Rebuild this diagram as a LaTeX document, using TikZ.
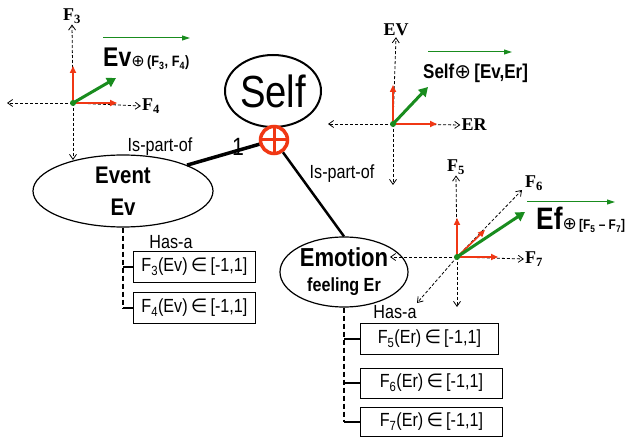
\documentclass[tikz,border=0pt]{standalone}
\usepackage{fontspec}
\setmainfont[FakeStretch=0.85]{Liberation Sans}
\newfontfamily\axisfont{Liberation Serif}
\newfontfamily\symfont{DejaVu Sans}
\usepackage{tikz}
\usetikzlibrary{shapes,arrows,positioning,calc,arrows.meta}

\definecolor{vecred}{RGB}{240,55,20}
\definecolor{vecgreen}{RGB}{25,140,30}

\tikzset{
  ell/.style={draw, ellipse, line width=1.2pt, inner sep=0pt},
  fbox/.style={draw, line width=0.8pt, anchor=west, minimum height=31pt, inner sep=0pt, font=\fontsize{19}{20}\selectfont},
  axis/.style={densely dashed, line width=0.8pt, -{Straight Barb[length=5pt,width=7pt]}},
  vred/.style={vecred, line width=1.6pt, -{Triangle[length=7pt,width=6pt]}},
  vgreen/.style={vecgreen, line width=3pt, -{Triangle[length=9pt,width=10pt]}},
  vthin/.style={vecgreen, line width=1pt, -{Triangle[length=8pt,width=5pt]}},
  axlabel/.style={inner sep=1pt, font=\axisfont\bfseries\fontsize{18}{18}\selectfont},
  lbl/.style={font=\fontsize{19}{20}\selectfont},
  trunk/.style={dashed, dash pattern=on 5pt off 3pt, line width=1.5pt},
  branch/.style={line width=1.5pt}
}

\begin{document}
\begin{tikzpicture}[x=1pt, y=-1pt]
  \useasboundingbox (0,0) rectangle (631,443);

  % concept nodes
  \node[ell, line width=2pt, minimum width=96pt, minimum height=72pt, font=\fontsize{45}{45}\selectfont] (self) at (273,91) {Self};
  \node[circle, draw=vecred, line width=3.5pt, minimum size=27pt, inner sep=0pt] (oplus) at (274,140) {};
  \draw[vecred, line width=3pt] (oplus.north) -- (oplus.south) (oplus.west) -- (oplus.east);
  \node[ell, minimum width=180pt, minimum height=72pt, align=center, font=\bfseries\fontsize{24}{32}\selectfont] (event) at (123,191) {Event\\Ev};
  \node[ell, minimum width=128pt, minimum height=70pt, align=center, font=\bfseries\fontsize{26}{25}\selectfont] (emotion) at (344,272) {Emotion\\{\fontsize{19}{25}\selectfont feeling Er}};

  \draw[line width=3.5pt] (event.22) -- (oplus);
  \draw[line width=2.5pt] (oplus) -- (emotion.north);
  \node[font=\fontsize{25}{25}\selectfont] (one) at (238,147) {1};
  \node[lbl] (ispart1) at (160,147) {Is-part-of};
  \node[lbl] (ispart2) at (342,174) {Is-part-of};

  % features of the event
  \node[lbl] (hasa1) at (171,242) {Has-a};
  \node[fbox, minimum width=122pt] (fev3) at (133,267) {F\textsubscript{3}(Ev){\symfont\,∈\,}[-1,1]};
  \node[fbox, minimum width=122pt] (fev4) at (133,308) {F\textsubscript{4}(Ev){\symfont\,∈\,}[-1,1]};
  \draw[trunk] (event.south) -- (event.south |- fev4.west);
  \draw[branch] (event.south |- fev3.west) -- (fev3.west);
  \draw[branch] (event.south |- fev4.west) -- (fev4.west);

  % features of the emotion
  \node[lbl] (hasa2) at (395,312) {Has-a};
  \node[fbox, minimum width=138pt] (fer5) at (360,339) {F\textsubscript{5}(Er){\symfont\,∈\,}[-1,1]};
  \node[fbox, minimum width=142pt, minimum height=30pt] (fer6) at (360,383) {F\textsubscript{6}(Er){\symfont\,∈\,}[-1,1]};
  \node[fbox, minimum width=142pt, minimum height=29pt] (fer7) at (360,422) {F\textsubscript{7}(Er){\symfont\,∈\,}[-1,1]};
  \draw[trunk] (emotion.south) -- (emotion.south |- fer7.west);
  \draw[branch] (emotion.south |- fer5.west) -- (fer5.west);
  \draw[branch] (emotion.south |- fer6.west) -- (fer6.west);
  \draw[branch] (emotion.south |- fer7.west) -- (fer7.west);

  % event space
  \coordinate (o1) at (73,103);
  \node[axlabel] (f3) at (72,16) {F\textsubscript{3}};
  \node[axlabel] (f4) at (151,106) {F\textsubscript{4}};
  \coordinate (o1w) at (7,103);
  \coordinate (o1s) at (73,160);
  \coordinate (o1r) at (73,66);
  \coordinate (o1e) at (117,103);
  \coordinate (o1g) at (116,78);
  \coordinate (g1a) at (103,38);
  \coordinate (g1b) at (190,38);
  \draw[axis] (o1) -- (f3.south);
  \draw[axis] (o1) -- (f4.west);
  \draw[axis] (o1) -- (o1w);
  \draw[axis] (o1) -- (o1s);
  \draw[vred] (o1) -- (o1r);
  \draw[vred] (o1) -- (o1e);
  \draw[vgreen] (o1) -- (o1g);
  \fill[vecgreen] (o1) circle (3pt);
  \draw[vthin] (g1a) -- (g1b);
  \node[anchor=base west, inner sep=0pt] (evlbl) at (103,67) {{\bfseries\fontsize{27}{27}\selectfont Ev}{\symfont\fontsize{16}{16}\selectfont ⊕}{\bfseries\fontsize{15}{15}\selectfont\,(F\textsubscript{3}, F\textsubscript{4})}};

  % self space
  \coordinate (o2) at (393,124);
  \node[axlabel] (ev) at (396,30) {EV};
  \node[axlabel] (er) at (474,125) {ER};
  \coordinate (o2w) at (328,124);
  \coordinate (o2s) at (393,185);
  \coordinate (o2r) at (393,85);
  \coordinate (o2e) at (437,124);
  \coordinate (o2g) at (428,87);
  \coordinate (g2a) at (428,52);
  \coordinate (g2b) at (512,52);
  \draw[axis] (o2) -- (ev.south);
  \draw[axis] (o2) -- (er.west);
  \draw[axis] (o2) -- (o2w);
  \draw[axis] (o2) -- (o2s);
  \draw[vred] (o2) -- (o2r);
  \draw[vred] (o2) -- (o2e);
  \draw[vgreen] (o2) -- (o2g);
  \fill[vecgreen] (o2) circle (3pt);
  \draw[vthin] (g2a) -- (g2b);
  \node[anchor=base west, inner sep=0pt, font=\bfseries\fontsize{20}{20}\selectfont] (selflbl) at (423,79) {Self{\symfont\mdseries ⊕}\,[Ev,Er]};

  % emotion space
  \coordinate (o3) at (457,257);
  \node[axlabel] (f5) at (456,167) {F\textsubscript{5}};
  \node[axlabel] (f6) at (534,183) {F\textsubscript{6}};
  \node[axlabel] (f7) at (534,259) {F\textsubscript{7}};
  \coordinate (o3w) at (390,257);
  \coordinate (o3s) at (457,307);
  \coordinate (o3sw) at (417,303);
  \coordinate (o3d) at (522,190);
  \coordinate (o3r) at (457,218);
  \coordinate (o3e) at (498,257);
  \coordinate (o3m) at (485,230);
  \coordinate (o3g) at (525,212);
  \coordinate (g3a) at (527,202);
  \coordinate (g3b) at (615,202);
  \draw[axis] (o3) -- (f5.south);
  \draw[axis] (o3) -- (o3d);
  \draw[axis] (o3) -- (f7.west);
  \draw[axis] (o3) -- (o3w);
  \draw[axis] (o3) -- (o3s);
  \draw[axis] (o3) -- (o3sw);
  \draw[vred] (o3) -- (o3r);
  \draw[vred] (o3) -- (o3e);
  \draw[vred] (o3) -- (o3m);
  \draw[vgreen] (o3) -- (o3g);
  \fill[vecgreen] (o3) circle (3pt);
  \draw[vthin] (g3a) -- (g3b);
  \node[anchor=base west, inner sep=0pt] (eflbl) at (536,230) {{\bfseries\fontsize{31}{31}\selectfont Ef}{\symfont\fontsize{17}{17}\selectfont ⊕}{\bfseries\fontsize{14}{14}\selectfont\,[F\textsubscript{5} -- F\textsubscript{7}]}};
\end{tikzpicture}
\end{document}
